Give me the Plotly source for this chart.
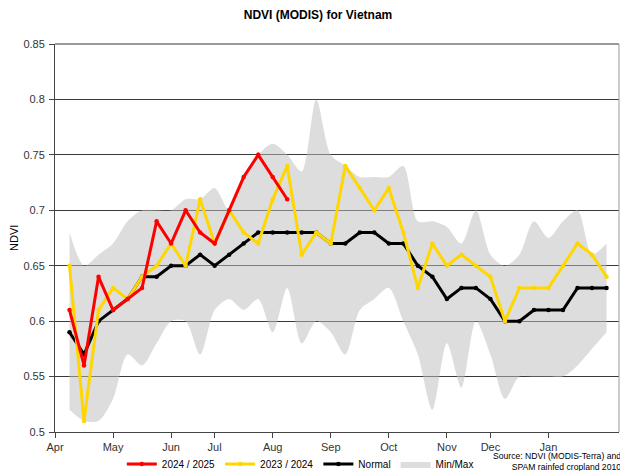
"""
NDVI (MODIS) seasonal profile for Vietnam: current season, previous season,
long-term normal and the min/max envelope, on 8-day composite periods.
"""

import plotly.graph_objects as go

FONT = "Liberation Sans, Arial, sans-serif"

# 8-day composite index, starting early April
periods = list(range(38))

season_2024 = [0.61, 0.56, 0.64, 0.61, 0.62, 0.63, 0.69, 0.67, 0.70, 0.68,
               0.67, 0.70, 0.73, 0.75, 0.73, 0.71]

season_2023 = [0.65, 0.51, 0.61, 0.63, 0.62, 0.64, 0.65, 0.67, 0.65, 0.71,
               0.67, 0.70, 0.68, 0.67, 0.71, 0.74, 0.66, 0.68, 0.67, 0.74,
               0.72, 0.70, 0.72, 0.68, 0.63, 0.67, 0.65, 0.66, 0.65, 0.64,
               0.60, 0.63, 0.63, 0.63, 0.65, 0.67, 0.66, 0.64]

normal = [0.59, 0.57, 0.60, 0.61, 0.62, 0.64, 0.64, 0.65, 0.65, 0.66,
          0.65, 0.66, 0.67, 0.68, 0.68, 0.68, 0.68, 0.68, 0.67, 0.67,
          0.68, 0.68, 0.67, 0.67, 0.65, 0.64, 0.62, 0.63, 0.63, 0.62,
          0.60, 0.60, 0.61, 0.61, 0.61, 0.63, 0.63, 0.63]

ndvi_max = [0.68, 0.65, 0.66, 0.67, 0.69, 0.70, 0.70, 0.70, 0.71, 0.71,
            0.72, 0.70, 0.73, 0.75, 0.76, 0.75, 0.735, 0.80, 0.75, 0.74,
            0.73, 0.73, 0.73, 0.74, 0.69, 0.69, 0.685, 0.67, 0.70, 0.66,
            0.65, 0.66, 0.69, 0.675, 0.69, 0.70, 0.66, 0.67]

ndvi_min = [0.52, 0.51, 0.51, 0.53, 0.57, 0.56, 0.58, 0.60, 0.60, 0.57,
            0.61, 0.62, 0.61, 0.62, 0.59, 0.63, 0.58, 0.60, 0.59, 0.57,
            0.61, 0.62, 0.63, 0.60, 0.57, 0.52, 0.58, 0.54, 0.60, 0.57,
            0.53, 0.55, 0.55, 0.55, 0.55, 0.56, 0.575, 0.59]

month_ticks = [-1, 3, 7, 10, 14, 18, 22, 26, 29, 33]
month_labels = ["Apr", "May", "Jun", "Jul", "Aug", "Sep", "Oct", "Nov", "Dec", "Jan"]

y_ticks = [0.5, 0.55, 0.6, 0.65, 0.7, 0.75, 0.8, 0.85]
y_labels = ["0.5", "0.55", "0.6", "0.65", "0.7", "0.75", "0.8", "0.85"]

fig = go.Figure()

# min/max envelope
fig.add_trace(go.Scatter(
    x=periods, y=ndvi_min, mode="lines",
    line=dict(width=0, shape="spline", smoothing=0.8),
    showlegend=False, hoverinfo="skip",
))
fig.add_trace(go.Scatter(
    x=periods, y=ndvi_max, mode="lines", name="Min/Max", legendrank=4,
    line=dict(width=0, shape="spline", smoothing=0.8),
    fill="tonexty", fillcolor="rgba(190,190,190,0.52)",
))

# draw order: normal, last season, current season on top
fig.add_trace(go.Scatter(
    x=periods, y=normal, mode="lines+markers",
    name="Normal", legendrank=3, line=dict(color="#000000", width=3),
    marker=dict(size=4.5, color="#000000"),
))
fig.add_trace(go.Scatter(
    x=periods, y=season_2023, mode="lines+markers",
    name="2023 / 2024", legendrank=2, line=dict(color="#ffd700", width=3),
    marker=dict(size=4.5, color="#ffd700"),
))
fig.add_trace(go.Scatter(
    x=periods[:len(season_2024)], y=season_2024, mode="lines+markers",
    name="2024 / 2025", legendrank=1, line=dict(color="#ff0000", width=3),
    marker=dict(size=4.5, color="#ff0000"),
))

# the page body adds an 8px offset, so the figure is 8px smaller each way
fig.update_layout(
    width=620, height=463,
    margin=dict(l=47, r=9, t=36, b=39, autoexpand=False),
    paper_bgcolor="white", plot_bgcolor="white",
    font=dict(family=FONT, size=11, color="#333333"),
    title=dict(text="<b>NDVI (MODIS) for Vietnam</b>", x=0.5, xanchor="center",
               y=0.986, yanchor="middle", font=dict(size=12, color="#000000")),
    legend=dict(orientation="h", x=0.435, xanchor="center",
                yref="container", y=0.015, yanchor="middle",
                bgcolor="rgba(0,0,0,0)",
                font=dict(size=10, color="#000000"), traceorder="normal",
                itemwidth=30, tracegroupgap=0),
    showlegend=True,
)
fig.update_xaxes(
    range=[-1, 37.86], tickvals=month_ticks, ticktext=month_labels,
    showgrid=False, zeroline=False, showline=True, linecolor="#444444", linewidth=1,
    ticks="outside", ticklen=5, tickcolor="#444444",
)
fig.update_yaxes(
    range=[0.5, 0.85], tickvals=y_ticks, ticktext=y_labels,
    showgrid=True, gridcolor="#3a3a3a", gridwidth=1, zeroline=False,
    showline=True, linecolor="#444444", linewidth=1,
    ticks="outside", ticklen=5, tickcolor="#444444", ticklabelstandoff=2,
)

# y-axis title placed by hand so it sits near the left edge
fig.add_annotation(
    text="NDVI", textangle=-90, xref="paper", yref="paper",
    x=-41 / 564, y=0.5, xanchor="center", yanchor="middle",
    showarrow=False, font=dict(size=11, color="#000000"),
)

# top and right frame lines
fig.add_shape(type="line", xref="paper", yref="paper", x0=0, x1=1, y0=1, y1=1,
              line=dict(color="#999999", width=2))
fig.add_shape(type="line", xref="paper", yref="paper", x0=1, x1=1, y0=0, y1=1,
              line=dict(color="#999999", width=1))

fig.add_annotation(
    text="Source: NDVI (MODIS-Terra) and<br>SPAM rainfed cropland 2010",
    xref="paper", yref="paper", x=1.007, y=-0.076, xanchor="right", yanchor="middle",
    align="right", showarrow=False, font=dict(size=8.6, color="#000000"),
)

fig.write_html("out.html")
